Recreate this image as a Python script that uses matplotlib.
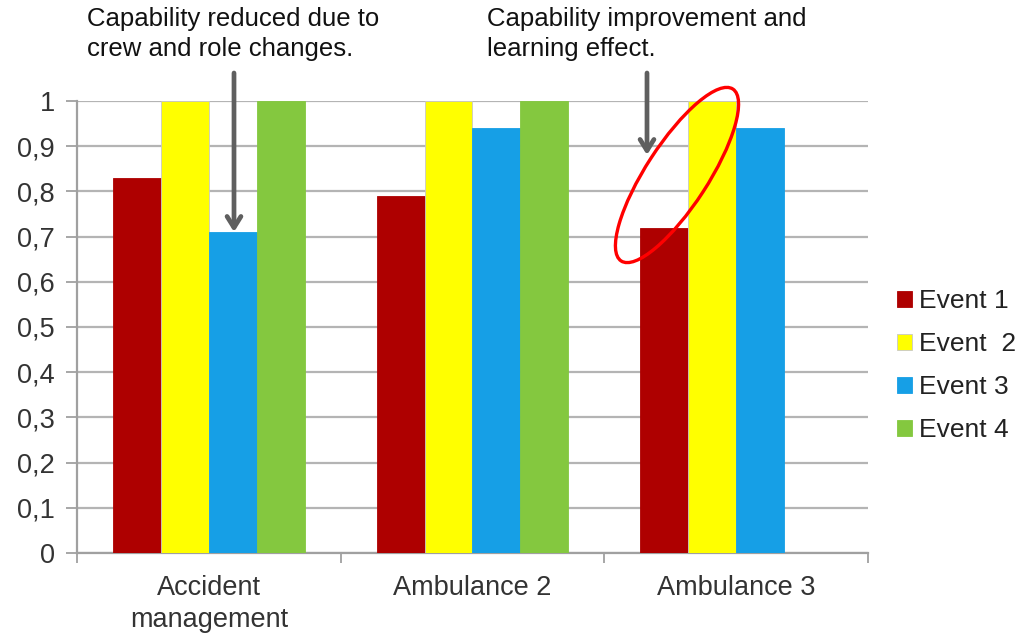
import numpy as np
import matplotlib.pyplot as plt
from matplotlib.patches import Ellipse
from matplotlib.transforms import IdentityTransform

plt.rcParams['font.family'] = ['Liberation Sans', 'DejaVu Sans']

# data
categories = ["Accident\nmanagement", "Ambulance 2", "Ambulance 3"]
series_names = ["Event 1", "Event  2", "Event 3", "Event 4"]
event1 = [0.83, 0.79, 0.72]
event2 = [1.0, 1.0, 1.0]
event3 = [0.71, 0.94, 0.94]
event4 = [1.0, 1.0, np.nan]
colors = ["#ae0000", "#ffff00", "#169fe6", "#84c83f"]
y_ticks = [0, 0.1, 0.2, 0.3, 0.4, 0.5, 0.6, 0.7, 0.8, 0.9, 1]
y_labels = ["0", "0,1", "0,2", "0,3", "0,4", "0,5", "0,6", "0,7", "0,8", "0,9", "1"]

W, H = 1025, 637
fig = plt.figure(figsize=(W / 100, H / 100), dpi=100)
ax = fig.add_axes([77 / W, 1 - 553 / H, (868 - 77) / W, (553 - 101) / H])

x = np.arange(len(categories))
bw = 0.182
for i, (vals, name, c) in enumerate(zip([event1, event2, event3, event4], series_names, colors)):
    ax.bar(x + (i - 1.5) * bw, vals, bw, color=c, label=name, zorder=3,
           edgecolor="#c8c8c8" if i == 1 else c, linewidth=0.6)

ax.set_xlim(-0.5, 2.5)
ax.set_ylim(0, 1)
ax.set_yticks(y_ticks)
ax.set_yticklabels(y_labels, fontsize=19.5, color="#333333")
ax.yaxis.grid(True, color="#b4b4b4", linewidth=1.6, zorder=0)
ax.tick_params(axis="y", length=8, width=1.3, color="#a0a0a0", pad=8)

ax.set_xticks(x)
ax.set_xticklabels(categories, fontsize=19.5, color="#333333", linespacing=1.3)
ax.tick_params(axis="x", length=0, pad=16)
ax.set_xticks([-0.5, 0.5, 1.5, 2.5], minor=True)
ax.tick_params(axis="x", which="minor", length=7, width=1.3, color="#a0a0a0")

for s in ["top", "right"]:
    ax.spines[s].set_visible(False)
for s in ["left", "bottom"]:
    ax.spines[s].set_color("#a0a0a0")
    ax.spines[s].set_linewidth(1.6)

leg = fig.legend(loc="upper left", bbox_to_anchor=(897 / W, 1 - 289 / H), frameon=False,
                 fontsize=19, handlelength=0.55, handleheight=0.55, handletextpad=0.3,
                 labelspacing=0.72, labelcolor="#222222", borderpad=0, borderaxespad=0)

# annotations
fig.text(87 / W, 1 - 7 / H, "Capability reduced due to\ncrew and role changes.",
         fontsize=18.5, va="top", ha="left", color="#111111", linespacing=1.3)
fig.text(487 / W, 1 - 7 / H, "Capability improvement and\nlearning effect.",
         fontsize=18.5, va="top", ha="left", color="#111111", linespacing=1.3)

arrow = dict(arrowstyle="->,head_length=0.8,head_width=0.5", color="#5f5f5f", lw=3.4,
             shrinkA=0, shrinkB=0)
ax.annotate("", xy=(234, H - 232), xytext=(234, H - 73), xycoords="figure pixels",
            textcoords="figure pixels", arrowprops=arrow, zorder=5)
ax.annotate("", xy=(647, H - 155), xytext=(647, H - 73), xycoords="figure pixels",
            textcoords="figure pixels", arrowprops=arrow, zorder=5)

ell = Ellipse((677, H - 175), 205, 62, angle=57, transform=IdentityTransform(),
              fill=False, edgecolor="#ff0000", linewidth=2.4, zorder=6)
fig.add_artist(ell)

fig.savefig("out.png", dpi=100)
